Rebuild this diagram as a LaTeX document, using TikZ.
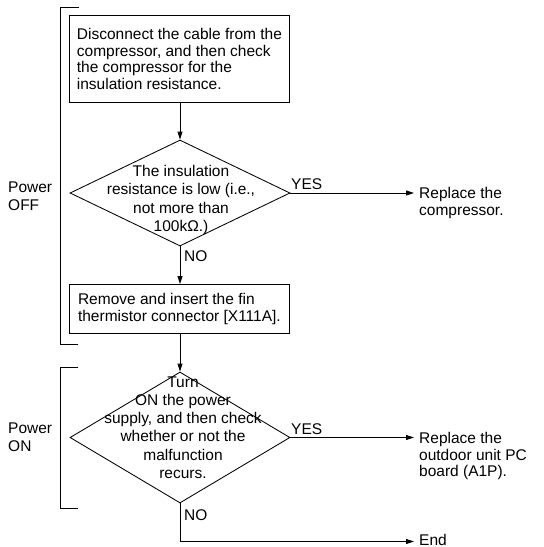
\documentclass[tikz,border=0pt]{standalone}
\usepackage{fontspec}
\setmainfont{Liberation Sans}
\usetikzlibrary{shapes.geometric,arrows.meta}
\begin{document}
\begin{tikzpicture}[x=1pt,y=-1pt,
  every node/.style={font=\fontsize{15.5}{16.7}\selectfont},
  line/.style={line width=0.85pt, draw=black},
  arr/.style={line, -{Triangle[length=8pt,width=5pt]}},
  box/.style={line, rectangle, align=left, minimum width=220pt, inner xsep=6pt, inner ysep=0pt, anchor=north west},
  dia/.style={line, diamond, inner sep=0pt, minimum width=220pt},
  dtext/.style={align=center, inner sep=0pt, font=\fontsize{15.5}{18.3}\selectfont},
  side/.style={align=left, inner sep=0pt, anchor=base west, font=\fontsize{15.5}{16.5}\selectfont},
  lbl/.style={inner sep=0pt, anchor=base west},
  phase/.style={align=left, inner sep=0pt, anchor=base west, font=\fontsize{15.5}{18}\selectfont},
]
\useasboundingbox (0,0) rectangle (544,547);

% brackets
\draw[line] (79,7) -- (60,7) -- (60,344) -- (78,344);
\draw[line] (78,367) -- (60,367) -- (60,508) -- (78,508);
\node[phase] (poff) at (8,210.5) {Power\\OFF};
\node[phase] (pon) at (8,451.5) {Power\\ON};

% step 1
\node[box, minimum height=87pt] (b1) at (69,15)
  {Disconnect the cable from the\\compressor, and then check\\the compressor for the\\insulation resistance.};

% decision 1
\node[dia, minimum height=106pt] (d1) at (180,193) {};
\node[dtext] (d1t) at (181,200) {The insulation\\resistance is low (i.e.,\\not more than\\100kΩ.)};
\node[lbl] (yes1) at (291,189.5) {YES};
\node[side] (r1) at (419,215) {Replace the\\compressor.};
\node[lbl] (no1) at (184,261.5) {NO};

% step 2
\node[box, minimum height=49pt] (b2) at (69,284)
  {Remove and insert the fin\\thermistor connector [X111A].};

% decision 2
\node[dia, minimum height=131pt] (d2) at (180,437.5) {};
\node[dtext] (d2t) at (183,427.5) {Turn\\ON the power\\supply, and then check\\whether or not the\\malfunction\\recurs.};
\node[lbl] (yes2) at (291,434) {YES};
\node[side] (r2) at (419,476.5) {Replace the\\outdoor unit PC\\board (A1P).};
\node[lbl] (no2) at (184,520.5) {NO};
\node[lbl] (endt) at (419,545) {End};
\coordinate (corner) at (180,541.5);

% connectors
\draw[arr] (b1.south -| d1.north) -- (d1.north);
\draw[arr] (d1.east) -- (d1.east -| r1.west) [shorten >=5pt];
\draw[arr] (d1.south) -- (d1.south |- b2.north);
\draw[arr] (b2.south -| d2.north) -- (d2.north);
\draw[arr] (d2.east) -- (d2.east -| r2.west) [shorten >=5pt];
\draw[arr] (d2.south) -- (corner) -- (corner -| endt.west) [shorten >=5pt];
\end{tikzpicture}
\end{document}
